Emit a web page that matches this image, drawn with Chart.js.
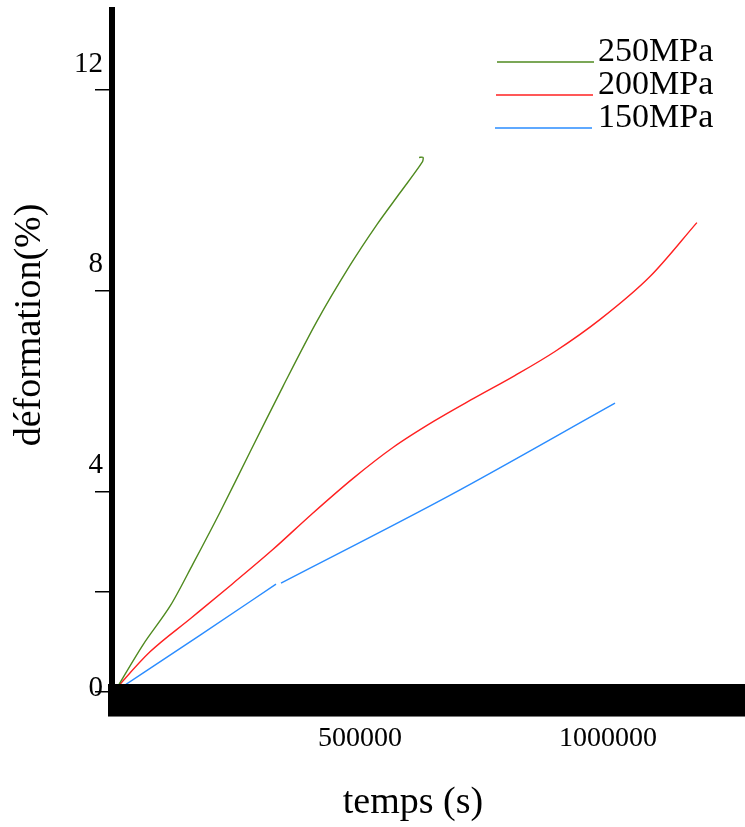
<!DOCTYPE html>
<html>
<head>
<meta charset="utf-8">
<script src="https://cdn.jsdelivr.net/npm/chart.js@4"></script>
<style>
  body { margin: 0; background: #fff; }
  #wrap { width: 745px; height: 827px; position: relative; }
</style>
</head>
<body>
<div id="wrap"><canvas id="creepChart"></canvas></div>
<script>
// values (temps in s, deformation in %)
const seriesLabels = ['250MPa', '200MPa', '150MPa'];
const seriesColors = ['#4f8a1f', '#ff2020', '#2a8cff'];

const time250 = [5000, 62500, 117000, 163000, 218000, 278000, 345000, 413000, 480000, 534000, 581000, 625000, 627000, 619000];
const strain250 = [0, 0.94, 1.71, 2.55, 3.59, 4.78, 6.10, 7.39, 8.51, 9.32, 9.96, 10.56, 10.66, 10.66];

const time200 = [2000, 76600, 159000, 242000, 323000, 403000, 486000, 567000, 649000, 730000, 812000, 893000, 984000, 1085000, 1179000];
const strain200 = [0, 0.80, 1.47, 2.15, 2.83, 3.55, 4.26, 4.88, 5.40, 5.86, 6.31, 6.79, 7.43, 8.29, 9.36];

// the 150MPa curve has a small break near 335000 s
const time150 = [5000, 177000, 330600, 335000, 340700, 681000, 1014000];
const strain150 = [0, 1.13, 2.15, null, 2.17, 3.92, 5.76];

const xTickValues = [500000, 1000000];
const yTickValues = [0, 2, 4, 8, 12];
const yLabelValues = [0, 4, 8, 12];

const serif = "'Liberation Serif', 'DejaVu Serif', serif";

function toPoints(xs, ys) {
    return xs.map((x, i) => ({ x: x, y: ys[i] }));
}

// thick x axis band, tick labels on y, axis titles and the legend
const decorPlugin = {
    id: 'decor',
    afterDatasetsDraw(chart) {
        const { ctx, chartArea } = chart;
        const yScale = chart.scales.y;
        ctx.save();

        // the heavy black x axis
        ctx.fillStyle = '#000';
        ctx.fillRect(chartArea.left - 4, chartArea.bottom - 16, chart.width - chartArea.left + 4, 32);
        ctx.fillStyle = '#777';
        ctx.fillRect(chartArea.left - 4, chartArea.bottom + 16, chart.width - chartArea.left + 4, 1);

        // y labels sit above their tick marks
        ctx.fillStyle = '#000';
        ctx.font = '29px ' + serif;
        ctx.textAlign = 'right';
        ctx.textBaseline = 'middle';
        yLabelValues.forEach(v => {
            const py = yScale.getPixelForValue(v);
            const ly = v === 0 ? chartArea.bottom - 12 : py - 26;
            ctx.fillText(String(v), 103, ly);
        });

        // axis titles
        ctx.font = '38px ' + serif;
        ctx.textAlign = 'center';
        ctx.fillText('temps (s)', 413, 803);
        ctx.save();
        ctx.translate(30, 325);
        ctx.rotate(-Math.PI / 2);
        ctx.fillText('déformation(%)', 0, 0);
        ctx.restore();

        // legend, top right
        ctx.font = '34px ' + serif;
        ctx.textAlign = 'left';
        ctx.textBaseline = 'alphabetic';
        chart.data.datasets.forEach((ds, i) => {
            const ly = 62 + i * 33;
            ctx.strokeStyle = ds.borderColor;
            ctx.lineWidth = 1.5;
            ctx.beginPath();
            ctx.moveTo(497 - i, ly);
            ctx.lineTo(594 - i, ly);
            ctx.stroke();
            ctx.fillStyle = '#000';
            ctx.fillText(ds.label, 598, ly - 1);
        });

        ctx.restore();
    }
};

const ctx = document.getElementById('creepChart').getContext('2d');

new Chart(ctx, {
    type: 'scatter',
    data: {
        datasets: [
            { label: seriesLabels[0], data: toPoints(time250, strain250), borderColor: seriesColors[0], tension: 0.3 },
            { label: seriesLabels[1], data: toPoints(time200, strain200), borderColor: seriesColors[1], cubicInterpolationMode: 'monotone' },
            { label: seriesLabels[2], data: toPoints(time150, strain150), borderColor: seriesColors[2], cubicInterpolationMode: 'monotone' }
        ].map(ds => Object.assign(ds, {
            showLine: true,
            borderWidth: 1.4,
            pointRadius: 0,
            spanGaps: false,
            fill: false
        }))
    },
    options: {
        responsive: true,
        maintainAspectRatio: false,
        animation: false,
        layout: { padding: { top: 10, right: 0, bottom: 0, left: 0 } },
        plugins: {
            legend: { display: false },
            tooltip: { enabled: false }
        },
        scales: {
            x: {
                type: 'linear',
                min: 0,
                max: 1276000,
                afterBuildTicks: scale => {
                    scale.ticks = xTickValues.map(v => ({ value: v }));
                },
                afterFit: scale => { scale.height = 127; },
                grid: { display: false, drawTicks: false },
                border: { display: false },
                ticks: {
                    padding: 22,
                    color: '#000',
                    font: { family: serif, size: 28 },
                    maxRotation: 0,
                    autoSkip: false,
                    callback: v => String(v)
                }
            },
            y: {
                type: 'linear',
                min: -0.16,
                max: 13.6,
                afterBuildTicks: scale => {
                    scale.ticks = yTickValues.map(v => ({ value: v }));
                },
                afterFit: scale => { scale.width = 112; },
                grid: {
                    drawOnChartArea: false,
                    drawTicks: true,
                    tickLength: 17,
                    color: '#000',
                    lineWidth: 1.5
                },
                border: { display: true, color: '#000', width: 6 },
                ticks: { display: false }
            }
        }
    },
    plugins: [decorPlugin]
});
</script>
</body>
</html>
